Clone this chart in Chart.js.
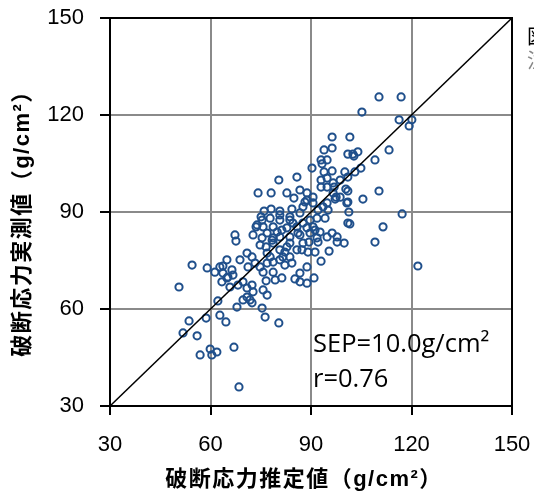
<!DOCTYPE html>
<html>
<head>
<meta charset="utf-8">
<script src="https://cdn.jsdelivr.net/npm/chart.js@4.4.0/dist/chart.umd.min.js"></script>
<style>
  html, body { margin: 0; padding: 0; background: #fff; }
</style>
</head>
<body>
<canvas id="sepChart" width="534" height="497"></canvas>
<script>
// estimated breaking stress (x) and measured breaking stress (y), g/cm2
var estX = [
  110.3, 116.9, 105.2, 116.3, 120.1, 119.3, 96.3, 101.6, 96.3, 93.9, 104.0, 101.0, 102.5, 102.8, 113.3,
  94.8, 93.0, 93.3, 109.1, 90.3, 96.3, 93.9, 100.1, 103.1, 104.9, 85.8, 80.4, 93.0, 94.8,
  74.2, 78.1, 82.8, 86.7, 88.8, 84.9, 110.3, 105.5, 100.7, 101.3, 117.2, 96.9, 100.4, 101.0,
  93.0, 97.5, 96.6, 97.2, 76.0, 78.1, 80.7, 84.3, 87.6, 88.8, 90.6, 92.1, 93.6, 94.8, 75.1,
  88.2, 90.6, 94.8, 96.6, 98.7, 101.0, 98.7, 101.0, 101.0, 95.1, 94.2, 91.8, 89.7, 87.6, 86.7,
  83.7, 80.7, 77.8, 75.4, 73.9, 75.7, 78.7, 79.9, 76.9, 72.7, 67.3, 82.8, 85.8, 88.8, 90.6,
  89.7, 92.7, 96.3, 97.8, 94.8, 91.8, 86.7, 83.7, 80.7, 78.7, 75.4,
  101.6, 111.5, 109.1, 121.9, 99.9, 97.8, 95.4, 93.0, 90.9, 88.8, 86.7, 85.2, 88.8, 86.7,
  91.2, 89.1, 87.3, 87.6, 89.4, 92.1, 91.2, 86.1, 67.6, 73.6, 80.7, 83.7, 84.6,
  74.8, 76.6, 78.7, 80.7, 81.6, 83.7, 84.3, 82.2, 80.7, 78.7, 76.9, 74.8, 75.7, 78.7, 81.3, 79.3, 76.6,
  70.9, 72.4, 68.8, 64.9, 62.8, 61.3, 59.0, 54.5, 50.6, 63.7, 66.4, 66.7, 64.9, 63.4, 65.8, 68.2, 69.7,
  70.9, 72.4, 72.7, 70.9, 69.7, 72.4, 75.7, 76.9, 75.4, 76.3, 67.9, 62.2, 71.2, 73.3, 76.9, 77.8,
  82.8, 82.2, 83.7, 85.8, 81.3, 78.4, 65.2, 63.7,
  53.6, 58.7, 62.8, 64.6, 51.8, 56.0, 59.9, 61.9, 60.4, 56.9, 67.0, 68.5, 80.4, 71.8
];
var measY = [
  125.6, 125.6, 120.9, 118.5, 118.5, 116.6, 113.2, 113.2, 109.8, 109.2, 108.6, 107.9, 107.9, 107.3, 109.2,
  106.1, 106.1, 104.9, 106.1, 103.6, 102.7, 102.4, 102.4, 102.4, 103.6, 100.8, 99.9, 99.9, 100.5,
  95.9, 95.9, 95.9, 96.8, 95.9, 94.3, 96.5, 94.0, 92.8, 90.0, 89.4, 97.7, 97.1, 96.5,
  97.7, 94.6, 95.9, 94.0, 90.3, 90.9, 90.3, 90.9, 91.6, 93.7, 92.8, 90.6, 91.6, 92.8, 88.5,
  93.1, 94.6, 97.7, 99.0, 99.9, 100.8, 94.6, 93.1, 86.6, 90.6, 88.1, 88.1, 87.5, 86.6, 89.7,
  87.5, 87.5, 88.1, 87.5, 86.0, 85.4, 85.4, 83.8, 83.5, 82.9, 82.9, 85.1, 85.4, 85.1, 85.4,
  83.5, 83.8, 83.5, 82.3, 82.3, 82.0, 82.9, 82.3, 82.3, 82.0, 82.0,
  86.3, 85.4, 80.7, 73.3, 80.4, 80.7, 77.9, 74.8, 69.6, 68.0, 68.4, 69.3, 73.0, 71.1,
  77.6, 77.6, 78.3, 80.4, 80.7, 80.7, 84.4, 83.5, 81.0, 85.4, 89.1, 88.5, 86.6,
  79.8, 79.2, 80.4, 78.3, 76.1, 76.1, 74.2, 73.6, 75.2, 74.5, 74.2, 73.0, 71.4, 71.4, 69.6, 69.0, 68.7,
  77.3, 76.1, 75.2, 75.2, 73.0, 71.4, 72.7, 73.6, 66.8, 71.1, 72.1, 70.5, 69.6, 68.4, 66.8, 67.4, 68.4,
  66.5, 67.4, 65.3, 63.7, 62.8, 61.9, 65.9, 64.3, 60.3, 57.5, 60.6, 62.5, 73.0, 74.2, 77.3, 76.1,
  79.2, 77.6, 80.4, 78.3, 84.4, 81.3, 69.9, 73.3,
  56.3, 57.2, 58.1, 56.0, 52.6, 51.7, 47.6, 46.7, 45.8, 45.8, 48.2, 35.9, 55.7, 62.8
];
// 1:1 line
var lineX = [30, 150];
var lineY = [30, 150];
var tickValues = [30, 60, 90, 120, 150];

var xTitle = '破断応力推定値（g/cm²）';
var yTitle = '破断応力実測値（g/cm²）';
var noteLines = ['SEP=10.0g/cm²', 'r=0.76'];

var points = estX.map(function (x, i) { return { x: x, y: measY[i] }; });
var diag = lineX.map(function (x, i) { return { x: x, y: lineY[i] }; });

// frame, axis titles and the SEP / r note
var extrasPlugin = {
  id: 'extras',
  beforeDatasetsDraw: function (chart) {
    var ctx = chart.ctx, a = chart.chartArea;
    ctx.save();
    ctx.strokeStyle = '#000';
    ctx.lineWidth = 2;
    ctx.strokeRect(a.left, a.top, a.right - a.left, a.bottom - a.top);
    ctx.restore();
  },
  afterDraw: function (chart) {
    var ctx = chart.ctx;
    ctx.save();
    ctx.fillStyle = '#000';
    ctx.font = 'bold 22px "Liberation Sans", "Noto Sans CJK JP", sans-serif';
    ctx.letterSpacing = '1.5px';
    ctx.textAlign = 'center';
    ctx.textBaseline = 'middle';
    ctx.fillText(xTitle, 304, 480);
    ctx.translate(23, 218);
    ctx.rotate(-Math.PI / 2);
    ctx.fillText(yTitle, 0, 0);
    ctx.restore();

    ctx.save();
    ctx.fillStyle = '#000';
    ctx.font = '25.5px "Open Sans", sans-serif';
    ctx.textAlign = 'left';
    ctx.textBaseline = 'alphabetic';
    ctx.fillText(noteLines[0], 313, 352);
    ctx.fillText(noteLines[1], 313, 387);
    ctx.restore();

    // clipped caption at the right edge
    ctx.save();
    ctx.font = '20px "Noto Sans CJK JP", sans-serif';
    ctx.textBaseline = 'top';
    ctx.fillStyle = '#000';
    ctx.fillText('図', 527, 26);
    ctx.fillStyle = '#888';
    ctx.fillText('注', 527, 50);
    ctx.restore();
  }
};

function noPad(scale) {
  scale.paddingTop = 0;
  scale.paddingBottom = 0;
  scale.paddingLeft = 0;
  scale.paddingRight = 0;
}

var ctx = document.getElementById('sepChart').getContext('2d');
new Chart(ctx, {
  type: 'scatter',
  data: {
    datasets: [
      {
        type: 'line',
        data: diag,
        borderColor: '#000',
        borderWidth: 1.5,
        pointRadius: 0,
        fill: false
      },
      {
        data: points,
        pointStyle: 'circle',
        pointRadius: 3.6,
        borderWidth: 2,
        borderColor: '#1f4f8b',
        backgroundColor: 'rgba(255,255,255,0)'
      }
    ]
  },
  options: {
    responsive: false,
    animation: false,
    layout: { padding: { left: 0, top: 18, right: 22, bottom: 0 } },
    plugins: {
      legend: { display: false },
      tooltip: { enabled: false }
    },
    scales: {
      x: {
        type: 'linear',
        min: 30,
        max: 150,
        afterBuildTicks: function (scale) {
          scale.ticks = tickValues.map(function (v) { return { value: v }; });
        },
        afterFit: function (scale) { scale.height = 91; noPad(scale); },
        grid: { color: '#8a8a8a', lineWidth: 2, tickLength: 9, tickColor: '#000', tickWidth: 2 },
        border: { display: false },
        ticks: { color: '#000', padding: 17, maxRotation: 0, font: { size: 22, family: '"Liberation Sans", Arial, sans-serif' } }
      },
      y: {
        type: 'linear',
        min: 30,
        max: 150,
        afterBuildTicks: function (scale) {
          scale.ticks = tickValues.map(function (v) { return { value: v }; });
        },
        afterFit: function (scale) { scale.width = 110; noPad(scale); },
        grid: { color: '#8a8a8a', lineWidth: 2, tickLength: 10, tickColor: '#000', tickWidth: 2 },
        border: { display: false },
        ticks: { color: '#000', padding: 16, font: { size: 22, family: '"Liberation Sans", Arial, sans-serif' } }
      }
    }
  },
  plugins: [extrasPlugin]
});
</script>
</body>
</html>
